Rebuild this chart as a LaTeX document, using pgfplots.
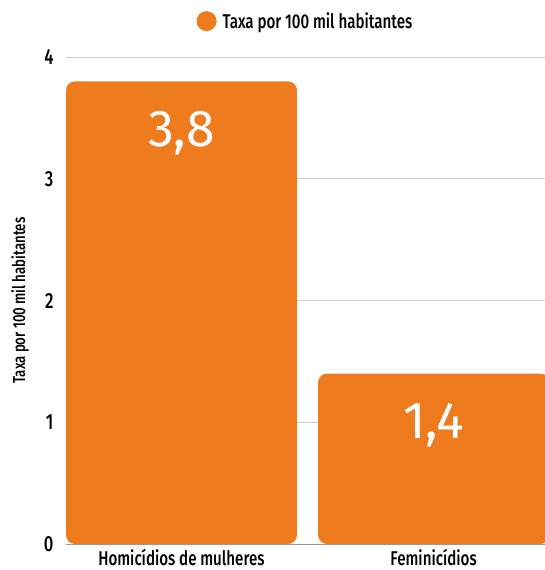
\documentclass[border=0pt]{standalone}
\usepackage{fontspec}
\setmainfont{Fira Sans Medium}[FakeStretch=0.76]
\newfontfamily\labelfont{Fira Sans}
\usepackage{pgfplots}
\pgfplotsset{compat=1.18}
\definecolor{barorange}{HTML}{EE7B1E}
\definecolor{gridgray}{HTML}{CCCCCC}
\begin{document}
\begin{tikzpicture}
\begin{axis}[
  scale only axis, width=479bp, height=487bp,
  xmin=-0.458, xmax=1.442, ymin=0, ymax=4,
  xtick={0,1}, xticklabels={Homicídios de mulheres, Feminicídios},
  ytick={0,1,2,3,4},
  axis lines*=left,
  y axis line style={draw=none},
  x axis line style={draw=gray!80, -},
  major tick length=0pt,
  ymajorgrids, grid style={gridgray, line width=0.8pt},
  /pgf/number format/assume math mode=true,
  tick label style={font=\fontsize{19}{21}\selectfont, text=black},
  xticklabel style={font=\fontsize{20}{22}\selectfont, yshift=-3bp, inner ysep=2bp},
  yticklabel style={font=\fontsize{22}{24}\selectfont, xshift=-9bp},
  ylabel={Taxa por 100 mil habitantes},
  every axis y label/.style={at={(axis description cs:0,0.5)}, rotate=90, anchor=center, yshift=46bp, font=\fontsize{17.5}{20}\selectfont},
  legend style={at={(0.5,1)}, anchor=south, yshift=23bp, draw=none, fill=none, font=\fontsize{20}{22}\selectfont},
  legend cell align=left,
  ybar, bar width=231bp,
  nodes near coords={\pgfmathprintnumber[fixed, fixed zerofill, precision=1, use comma]{\pgfplotspointmeta}},
  every node near coord/.append style={anchor=north, yshift=-26bp, text=white, font=\labelfont\fontsize{52}{54}\selectfont},
]
\addplot[fill=barorange, draw=none, rounded corners=9bp,
  legend image code/.code={\fill[barorange] (0bp,0bp) circle (10bp); \path (-10bp,0bp) -- (14bp,0bp);}]
  coordinates {(0,3.8) (1,1.4)};
\addlegendentry{Taxa por 100 mil habitantes}
\end{axis}
\pgfresetboundingbox
\useasboundingbox (-66bp,-26bp) rectangle (479bp,544bp);
\end{tikzpicture}
\end{document}
